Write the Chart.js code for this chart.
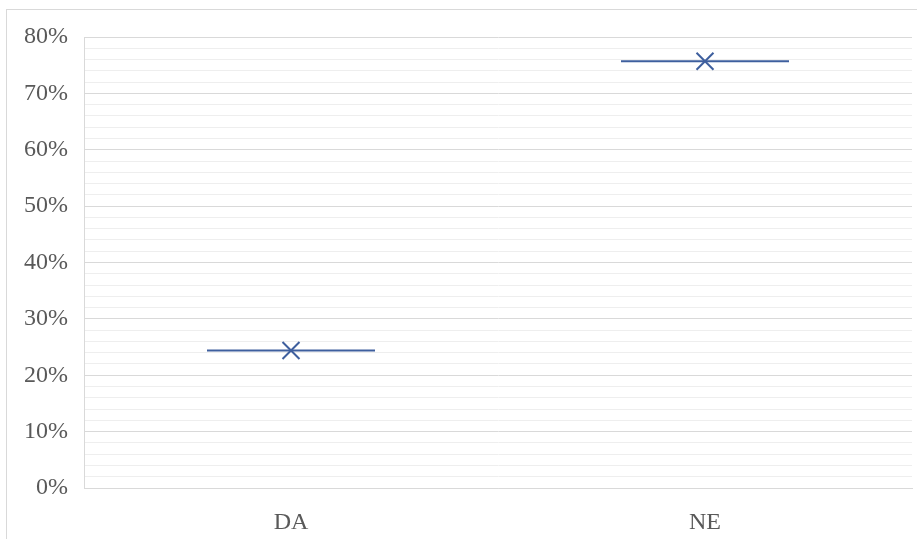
<!DOCTYPE html>
<html>
<head>
<meta charset="utf-8">
<script src="https://cdn.jsdelivr.net/npm/chart.js@4"></script>
<style>
  html, body { margin: 0; padding: 0; background: #fff; overflow: hidden; }
  #frame { position: absolute; left: 6px; top: 9px; width: 1000px; height: 600px; border: 1px solid #d9d9d9; }
  #wrap { position: absolute; left: 0; top: 0; width: 917px; height: 539px; }
</style>
</head>
<body>
<div id="frame"></div>
<div id="wrap"><canvas id="boxChart"></canvas></div>
<script>
const categories = ['DA', 'NE'];
const values = [24.4, 75.7];
const yMin = 0;
const yMax = 80;
const yStep = 2;

const lineColor = '#3e5f9e';
const fontFamily = '"Liberation Serif", "Times New Roman", serif';

function drawChart() {
  const ctx = document.getElementById('boxChart').getContext('2d');

  new Chart(ctx, {
    type: 'line',
    data: {
      labels: categories,
      datasets: [
        {
          label: 'median',
          data: values,
          showLine: false,
          pointStyle: 'line',
          pointRadius: 84,
          pointBorderWidth: 2,
          pointBorderColor: lineColor,
          borderColor: lineColor,
          clip: false
        },
        {
          label: 'mean',
          data: values,
          showLine: false,
          pointStyle: 'crossRot',
          pointRadius: 12,
          pointBorderWidth: 2,
          pointBorderColor: lineColor,
          borderColor: lineColor,
          clip: false
        }
      ]
    },
    options: {
      responsive: true,
      maintainAspectRatio: false,
      animation: false,
      events: [],
      layout: { autoPadding: false, padding: { left: 0, top: 37, right: 5, bottom: 0 } },
      plugins: {
        legend: { display: false },
        tooltip: { enabled: false }
      },
      scales: {
        x: {
          offset: true,
          grid: { display: false },
          border: { color: '#d9d9d9', width: 1 },
          ticks: {
            color: '#595959',
            padding: 12,
            font: { family: fontFamily, size: 24 }
          },
          afterFit: scale => { scale.height = 51; }
        },
        y: {
          min: yMin,
          max: yMax,
          border: { color: '#d9d9d9', width: 1 },
          grid: {
            drawTicks: false,
            color: c => (c.tick.value % 10 === 0 ? '#d9d9d9' : '#eeeeee'),
            lineWidth: 1
          },
          ticks: {
            stepSize: yStep,
            autoSkip: false,
            padding: 16,
            color: '#595959',
            font: { family: fontFamily, size: 24 },
            callback: v => (v % 10 === 0 ? v + '%' : '')
          },
          afterFit: scale => { scale.width = 84; }
        }
      }
    }
  });
}

document.addEventListener('DOMContentLoaded', drawChart);
</script>
</body>
</html>
